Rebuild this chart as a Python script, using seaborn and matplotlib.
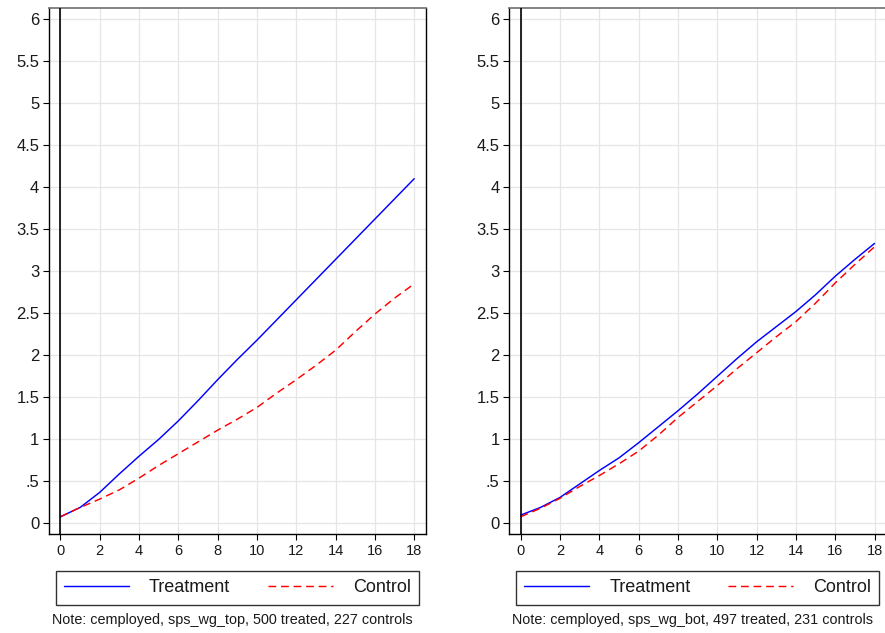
import numpy as np
import pandas as pd
import matplotlib
matplotlib.use("Agg")
import matplotlib.pyplot as plt
import seaborn as sns

# Cumulative outcome by period, two subgroups
periods = list(range(0, 19))

top_treatment = [0.08, 0.19, 0.37, 0.59, 0.80, 1.00, 1.22, 1.46, 1.71, 1.95, 2.18,
                 2.42, 2.66, 2.90, 3.14, 3.38, 3.62, 3.86, 4.10]
top_control = [0.08, 0.19, 0.29, 0.40, 0.54, 0.69, 0.83, 0.97, 1.11, 1.24, 1.38,
               1.55, 1.71, 1.88, 2.06, 2.28, 2.49, 2.68, 2.85]

bot_treatment = [0.10, 0.19, 0.31, 0.47, 0.63, 0.78, 0.96, 1.15, 1.34, 1.54, 1.75,
                 1.96, 2.16, 2.34, 2.52, 2.72, 2.94, 3.14, 3.33]
bot_control = [0.08, 0.18, 0.30, 0.44, 0.57, 0.71, 0.86, 1.05, 1.26, 1.45, 1.64,
               1.84, 2.03, 2.22, 2.40, 2.62, 2.86, 3.08, 3.29]

series_names = ["Treatment", "Control"]
notes = ["Note: cemployed, sps_wg_top, 500 treated, 227 controls",
         "Note: cemployed, sps_wg_bot, 497 treated, 231 controls"]

x_ticks = list(range(0, 19, 2))
y_ticks = [0, 0.5, 1, 1.5, 2, 2.5, 3, 3.5, 4, 4.5, 5, 5.5, 6]
y_tick_labels = ["0", ".5", "1", "1.5", "2", "2.5", "3", "3.5", "4", "4.5", "5", "5.5", "6"]

sns.set_style("ticks")
plt.rcParams["font.family"] = ["Liberation Sans", "DejaVu Sans"]

fig = plt.figure(figsize=(8.85, 6.33), dpi=100)
W, H = 885, 633

panels = [
    (49, top_treatment, top_control, notes[0]),
    (509.3, bot_treatment, bot_control, notes[1]),
]

for left_px, treat, ctrl, note in panels:
    ax = fig.add_axes([left_px / W, (H - 534) / H, 377 / W, 526 / H])
    df = pd.DataFrame({
        "period": periods * 2,
        "value": treat + ctrl,
        "group": [series_names[0]] * len(periods) + [series_names[1]] * len(periods),
    })
    for name, color, ls in [("Treatment", "#0000ff", "-"), ("Control", "#ff0000", "--")]:
        sub = df[df["group"] == name]
        sns.lineplot(data=sub, x="period", y="value", ax=ax, color=color,
                     linewidth=1.05, label=name)
        if ls == "--":
            ax.lines[-1].set_dashes((5.3, 3.3))

    ax.axvline(0, color="black", linewidth=1.2, zorder=3)
    ax.set_xlim(-0.58, 18.6)
    ax.set_ylim(-0.125, 6.13)
    ax.set_xticks(x_ticks)
    ax.set_yticks(y_ticks)
    ax.set_yticklabels(y_tick_labels)
    ax.tick_params(axis="y", labelsize=12, length=4, width=0.8, color="black", pad=3,
                   labelcolor="#1a1a1a")
    ax.tick_params(axis="x", labelsize=10.5, length=4, width=0.8, color="black", pad=3,
                   labelcolor="#1a1a1a")
    ax.grid(True, color="#e6e6e6", linewidth=0.9)
    ax.set_axisbelow(True)
    ax.set_xlabel("")
    ax.set_ylabel("")
    for side in ["left", "bottom", "right"]:
        ax.spines[side].set_color("black")
        ax.spines[side].set_linewidth(1.0)
        ax.spines[side].set_visible(True)
    ax.spines["top"].set_visible(True)
    ax.spines["top"].set_color("#707070")
    ax.spines["top"].set_linewidth(1.2)

    leg = ax.legend(loc="center", bbox_to_anchor=(0.5, (534 - 588) / 526),
                    ncol=2, frameon=True, fancybox=False, fontsize=13,
                    handlelength=3.6, handletextpad=1.1, columnspacing=2.1,
                    borderpad=0.45, borderaxespad=0)
    leg.get_frame().set_edgecolor("black")
    leg.get_frame().set_linewidth(1.0)
    for t in leg.get_texts():
        t.set_color("#1a1a1a")

    center_px = left_px + 377 / 2 - 5
    fig.text(center_px / W, (H - 620) / H, note, ha="center", va="center",
             fontsize=10.4, color="#1a1a1a")

fig.savefig("out.png", dpi=100)
